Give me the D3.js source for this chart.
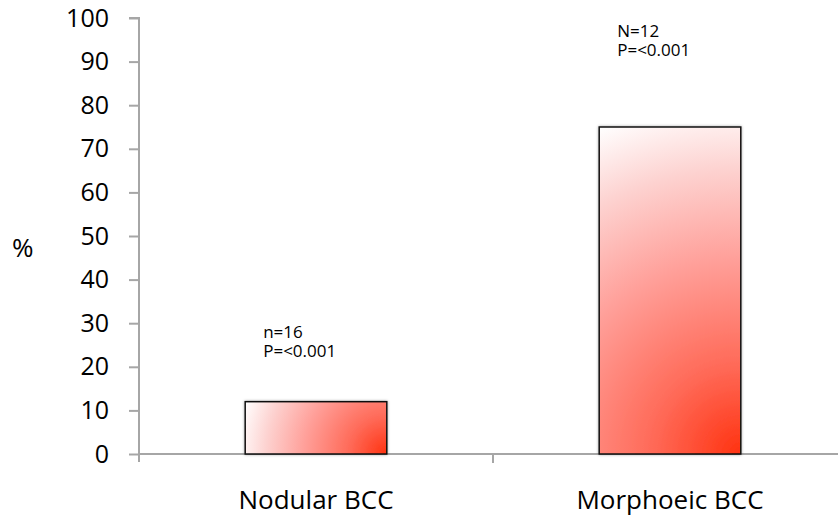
<!DOCTYPE html>
<html>
<head>
<meta charset="utf-8">
<script src="https://cdn.jsdelivr.net/npm/d3@7"></script>
<style>
  body { margin: 0; background: #fff; }
  svg { display: block; font-family: "Open Sans", sans-serif; }
</style>
</head>
<body>
<svg id="chart" width="838" height="520"></svg>
<script>
// Data
const categories = ["Nodular BCC", "Morphoeic BCC"];
const values = [12, 75];
const notes = [["n=16", "P=<0.001"], ["N=12", "P=<0.001"]];
const noteValues = [26.6, 95.6]; // baseline level (in %) of the first note line
const yTicks = [0, 10, 20, 30, 40, 50, 60, 70, 80, 90, 100];

const svg = d3.select("#chart");
const margin = { left: 139, top: 18, bottom: 66 };
const W = 838, H = 520;
const font = "'Open Sans', sans-serif";

const x = d3.scaleBand().domain(categories).range([margin.left, 847])
  .paddingInner(0.6).paddingOuter(0.3);
const y = d3.scaleLinear().domain([0, 100]).range([H - margin.bottom, margin.top]);

const axisColor = "#a6a6a6";
const defs = svg.append("defs");

const shadow = defs.append("filter").attr("id", "shadow")
  .attr("x", "-10%").attr("y", "-10%").attr("width", "120%").attr("height", "120%");
shadow.append("feGaussianBlur").attr("in", "SourceAlpha").attr("stdDeviation", 1.5);
shadow.append("feComponentTransfer").append("feFuncA").attr("type", "linear").attr("slope", 0.35);
const m = shadow.append("feMerge");
m.append("feMergeNode");
m.append("feMergeNode").attr("in", "SourceGraphic");

// One radial gradient per bar, centred on the bottom-right corner
categories.forEach((c, i) => {
  const x0 = x(c), x1 = x(c) + x.bandwidth();
  const y0 = y(values[i]), y1 = y(0);
  const r = Math.hypot(x1 - x0, y1 - y0);
  const g = defs.append("radialGradient").attr("id", "grad" + i)
    .attr("gradientUnits", "userSpaceOnUse")
    .attr("cx", x1).attr("cy", y1).attr("fx", x1).attr("fy", y1).attr("r", r);
  [[0, "#ff3210"], [0.25, "#ff6a58"], [0.55, "#ffa09a"], [0.8, "#fdd2d0"], [1, "#ffffff"]]
    .forEach(([o, col]) => g.append("stop").attr("offset", o).attr("stop-color", col));
});

// Y axis
const yAxis = svg.append("g").attr("transform", `translate(${margin.left},0)`)
  .call(d3.axisLeft(y).tickValues(yTicks).tickSize(10).tickPadding(20));
yAxis.selectAll("path, line").attr("stroke", axisColor).attr("stroke-width", 2);
yAxis.select(".domain").attr("d", `M-10,${y(100)}H0V${y(0) + 8}`);
yAxis.selectAll("text").attr("font-size", 25).attr("fill", "#000").attr("font-family", font);

// X axis
const xAxis = svg.append("g").attr("transform", `translate(0,${y(0)})`)
  .call(d3.axisBottom(x).tickSize(0).tickPadding(37));
xAxis.select(".domain").attr("stroke", axisColor).attr("stroke-width", 2)
  .attr("d", `M${margin.left},0H${W}`);
xAxis.selectAll("text").attr("font-size", 26).attr("fill", "#000").attr("font-family", font);
// Category separator tick between the bands
const sep = (x(categories[0]) + x.bandwidth() + x(categories[1])) / 2;
xAxis.append("line").attr("x1", sep).attr("x2", sep).attr("y1", 0).attr("y2", 9)
  .attr("stroke", axisColor).attr("stroke-width", 2);

// Bars
svg.append("g").selectAll("rect").data(categories).join("rect")
  .attr("x", c => x(c)).attr("width", x.bandwidth())
  .attr("y", (c, i) => y(values[i])).attr("height", (c, i) => y(0) - y(values[i]))
  .attr("fill", (c, i) => `url(#grad${i})`)
  .attr("stroke", "#111").attr("stroke-width", 1.5)
  .attr("filter", "url(#shadow)");

// Annotations
categories.forEach((c, i) => {
  const t = svg.append("text").attr("y", y(noteValues[i]))
    .attr("font-size", 17).attr("fill", "#000").attr("font-family", font);
  notes[i].forEach((line, k) => t.append("tspan").attr("x", x(c) + 18).attr("dy", k ? 18.5 : 0).text(line));
});

// Y-axis label
svg.append("text").attr("x", 12).attr("y", 257).attr("font-size", 26)
  .attr("fill", "#000").attr("font-family", font).text("%");
</script>
</body>
</html>
